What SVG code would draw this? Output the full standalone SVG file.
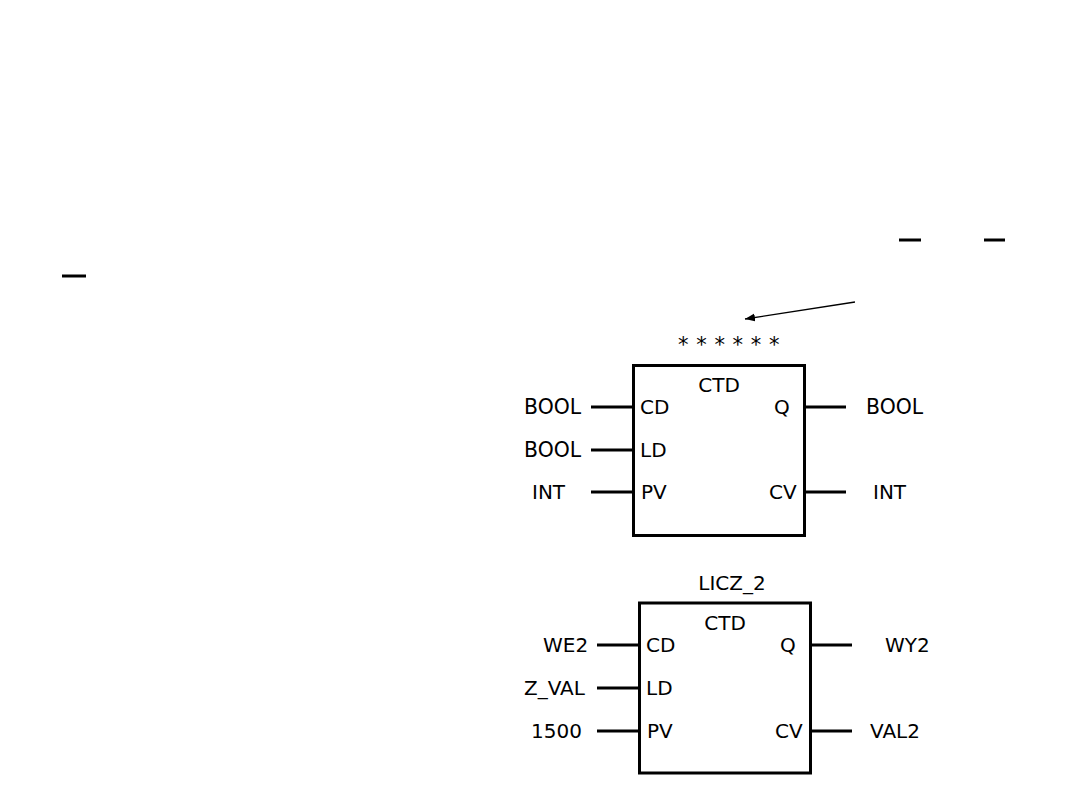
<svg xmlns="http://www.w3.org/2000/svg" width="1080" height="810" viewBox="0 0 1080 810">
<style>
text{font-family:"DejaVu Sans",sans-serif;font-size:20px;fill:#000}
.box{fill:#fff;stroke:#000;stroke-width:3}
.pin{stroke:#000;stroke-width:3;fill:none}
</style>
<defs>
<marker id="ah" viewBox="0 0 10 10" refX="10" refY="5" markerWidth="10" markerHeight="10" markerUnits="userSpaceOnUse" orient="auto">
<path d="M0,1 L10,5 L0,9 Z" fill="#000"/>
</marker>
</defs>
<rect width="1080" height="810" fill="#fff"/>
<g id="dashes">
<line class="pin" x1="899" y1="240" x2="921" y2="240"/>
<line class="pin" x1="984" y1="240" x2="1005" y2="240"/>
<line class="pin" x1="62" y1="276" x2="86" y2="276"/>
</g>
<g id="connectors">
<line x1="855" y1="302" x2="745" y2="319" stroke="#000" stroke-width="1.3" marker-end="url(#ah)"/>
<line class="pin" x1="591" y1="407" x2="633" y2="407"/>
<line class="pin" x1="591" y1="450" x2="633" y2="450"/>
<line class="pin" x1="591" y1="492" x2="633" y2="492"/>
<line class="pin" x1="804" y1="407" x2="846" y2="407"/>
<line class="pin" x1="804" y1="492" x2="846" y2="492"/>
<line class="pin" x1="597" y1="645" x2="639" y2="645"/>
<line class="pin" x1="597" y1="688" x2="639" y2="688"/>
<line class="pin" x1="597" y1="731" x2="639" y2="731"/>
<line class="pin" x1="810" y1="645" x2="852" y2="645"/>
<line class="pin" x1="810" y1="731" x2="852" y2="731"/>
</g>
<g id="ctd-generic">
<text x="729" y="352" text-anchor="middle" style="font-size:21px;letter-spacing:0.5px">* * * * * *</text>
<rect class="box" x="633.5" y="365.5" width="171" height="170"/>
<text x="719" y="392" text-anchor="middle">CTD</text>
<text x="640" y="414">CD</text>
<text x="640" y="457">LD</text>
<text x="641" y="499">PV</text>
<text x="774" y="414">Q</text>
<text x="769" y="499">CV</text>
<text x="524" y="414" style="font-size:20.4px">BOOL</text>
<text x="524" y="457" style="font-size:20.4px">BOOL</text>
<text x="532" y="499">INT</text>
<text x="866" y="414" style="font-size:20.4px">BOOL</text>
<text x="873" y="499">INT</text>
</g>
<g id="ctd-licz2">
<text x="732" y="590" text-anchor="middle">LICZ_2</text>
<rect class="box" x="639.5" y="603" width="171" height="170"/>
<text x="725" y="630" text-anchor="middle">CTD</text>
<text x="646" y="652">CD</text>
<text x="646" y="695">LD</text>
<text x="647" y="738">PV</text>
<text x="780" y="652">Q</text>
<text x="775" y="738">CV</text>
<text x="543" y="652">WE2</text>
<text x="524" y="695">Z_VAL</text>
<text x="531" y="738">1500</text>
<text x="885" y="652">WY2</text>
<text x="870" y="738">VAL2</text>
</g>
</svg>
